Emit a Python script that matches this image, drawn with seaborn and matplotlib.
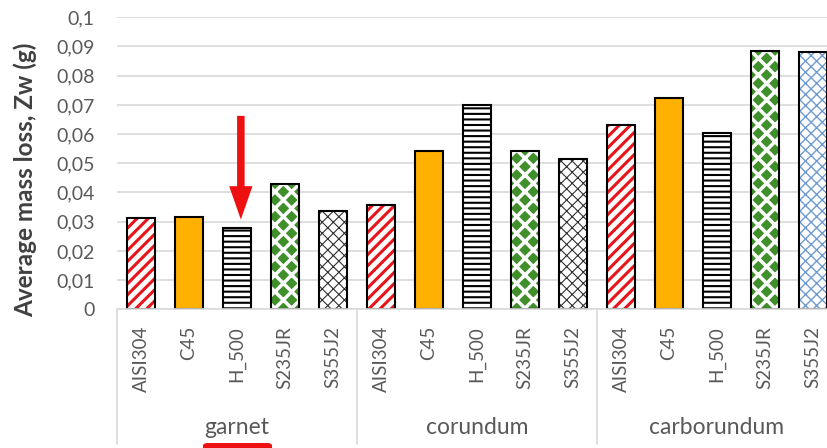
import numpy as np
import pandas as pd
import seaborn as sns
import matplotlib.pyplot as plt
from matplotlib.patches import Rectangle, FancyBboxPatch
from matplotlib.ticker import FuncFormatter, MultipleLocator
import matplotlib.transforms as mtransforms

# ---------------------------------------------------------------- data
abrasives = ["garnet", "corundum", "carborundum"]
materials = ["AISI304", "C45", "H_500", "S235JR", "S355J2"]
garnet_loss = [0.0312, 0.0316, 0.0280, 0.0430, 0.0338]
corundum_loss = [0.0356, 0.0543, 0.0701, 0.0541, 0.0516]
carborundum_loss = [0.0630, 0.0722, 0.0605, 0.0885, 0.0881]

rows = []
for abr, vals in zip(abrasives, [garnet_loss, corundum_loss, carborundum_loss]):
    for mat, v in zip(materials, vals):
        rows.append({"abrasive": abr, "material": mat, "slot": f"{abr}|{mat}", "loss": v})
df = pd.DataFrame(rows)
slots = df["slot"].tolist()

# ---------------------------------------------------------------- styles
GRID = "#d9d9d9"
TXT = "#595959"
RED = "#e8141b"

bar_style = {
    "AISI304": dict(face="white", hatch="///", hcol=RED, hlw=2.2),
    "C45": dict(face="#ffb000", hatch="", hcol="black", hlw=1.0),
    "H_500": dict(face="white", hatch="---", hcol="black", hlw=1.5),
    "S235JR": dict(face="#3f8f2a", hatch="xx", hcol="white", hlw=2.5),
    "S355J2": dict(face="white", hatch="xxx", hcol="#303030", hlw=0.8),
}

sns.set_theme(style="white")
plt.rcParams["font.family"] = ["Lato", "DejaVu Sans"]
plt.rcParams["hatch.linewidth"] = 1.5

fig = plt.figure(figsize=(8.28, 4.48), dpi=100)
ax = fig.add_axes([117 / 828, (448 - 309.3) / 448, 720 / 828, 292 / 448])

sns.barplot(data=df, x="slot", y="loss", hue="material", order=slots,
            hue_order=materials, dodge=False, width=0.58, legend=False,
            palette=["white"] * 5, ax=ax)

for p in list(ax.patches):
    idx = int(round(p.get_x() + p.get_width() / 2))
    mat = materials[idx % 5]
    abr = abrasives[idx // 5]
    st = dict(bar_style[mat])
    if mat == "S355J2" and abr == "carborundum":
        st["hcol"] = "#6f9bd3"
        st["hlw"] = 1.0
    p.set_facecolor(st["face"])
    p.set_hatch(st["hatch"])
    p.set_edgecolor(st["hcol"])
    p.set_linewidth(0)
    if hasattr(p, "set_hatch_linewidth"):
        p.set_hatch_linewidth(st["hlw"])
    ax.add_patch(Rectangle((p.get_x(), p.get_y()), p.get_width(), p.get_height(),
                           fill=False, edgecolor="black", lw=1.5, zorder=p.get_zorder() + 0.1))

# ---------------------------------------------------------------- axes
ax.set_xlim(-0.5, len(slots) - 0.5)
ax.set_ylim(0, 0.1)
ax.yaxis.set_major_locator(MultipleLocator(0.01))
ax.yaxis.set_major_formatter(FuncFormatter(
    lambda v, pos: "0" if abs(v) < 1e-9 else f"{v:.2f}".rstrip("0").replace(".", ",")))
ax.yaxis.grid(True, color=GRID, lw=1.2)
ax.set_axisbelow(True)
for side in ["left", "right", "top"]:
    ax.spines[side].set_visible(False)
ax.spines["bottom"].set_color(GRID)
ax.spines["bottom"].set_linewidth(1.2)

ax.set_xticks(range(len(slots)))
ax.set_xticklabels(df["material"].tolist(), rotation=90, fontsize=13.5, color=TXT)
ax.tick_params(axis="x", length=0, pad=12)
ax.tick_params(axis="y", length=0, pad=16, labelsize=14, labelcolor=TXT)
ax.set_xlabel("")
ax.set_ylabel("Average mass loss, Zw (g)", fontsize=17.5, fontweight="bold",
              color="#404040")
ax.yaxis.set_label_coords((37 - 117) / 720, (309.3 - 180) / 292)

# group separators and group names
trans = mtransforms.blended_transform_factory(ax.transData, ax.transAxes)
for b in np.arange(-0.5, len(slots), 5):
    ax.plot([b, b], [0, -0.46], color=GRID, lw=1.2, transform=trans, clip_on=False)
for i, abr in enumerate(abrasives):
    ax.text(i * 5 + 2, -0.405, abr, transform=trans, ha="center", va="center",
            fontsize=16.5, color=TXT)

# red arrow annotation
ax.annotate("", xy=(2.08, 0.0298), xytext=(2.08, 0.0672),
            arrowprops=dict(arrowstyle="simple,head_length=2.0,head_width=1.4,tail_width=0.45",
                            color="#ee1111", lw=0))

# red marker under "garnet"
fig.patches.append(FancyBboxPatch((203 / 828, -10 / 448), 69 / 828, 15 / 448,
                                  boxstyle="round,pad=0,rounding_size=0.006",
                                  transform=fig.transFigure, facecolor="#ee1111",
                                  edgecolor="none"))

fig.savefig("out.png", dpi=100)
